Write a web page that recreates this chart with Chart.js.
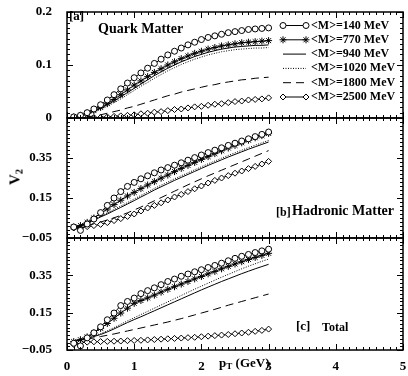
<!DOCTYPE html>
<html>
<head>
<meta charset="utf-8">
<script src="https://cdn.jsdelivr.net/npm/chart.js@4"></script>
<style>
  body { margin: 0; background: #fff; }
  #wrap { position: relative; width: 408px; height: 376px; font-family: 'Liberation Serif', serif; font-weight: bold; color: #000; }
  canvas { position: absolute; left: 0; }
  .lbl { position: absolute; white-space: nowrap; line-height: 1; }
  .lbl sub { font-size: 70%; vertical-align: -0.25em; line-height: 0; }
</style>
</head>
<body>
<div id="wrap">
  <canvas id="quark" width="408" height="130" style="top:0"></canvas>
  <canvas id="hadron" width="408" height="140" style="top:108px"></canvas>
  <canvas id="total" width="408" height="148" style="top:228px"></canvas>

  <div class="lbl" style="left:69px; top:9px; font-size:13px">[a]</div>
  <div class="lbl" style="left:98px; top:21.5px; font-size:14px">Quark Matter</div>
  <div class="lbl" style="left:276px; top:206px; font-size:12px">[b]</div>
  <div class="lbl" style="left:292px; top:204px; font-size:14px">Hadronic Matter</div>
  <div class="lbl" style="left:296px; top:319px; font-size:13px">[c]</div>
  <div class="lbl" style="left:322px; top:321px; font-size:12px">Total</div>
  <div class="lbl" style="left:219px; top:356px; font-size:13px">p<sub>T</sub> (GeV)</div>
  <div class="lbl" style="left:15px; top:177px; font-size:15px; transform: translate(-50%, -50%) rotate(-90deg)">V<sub>2</sub></div>
</div>

<script>
// transverse momentum (GeV), shared by every curve
const pT = [0.1, 0.2, 0.3, 0.4, 0.5, 0.6, 0.7, 0.8, 0.9, 1.0,
            1.1, 1.2, 1.3, 1.4, 1.5, 1.6, 1.7, 1.8, 1.9, 2.0,
            2.1, 2.2, 2.3, 2.4, 2.5, 2.6, 2.7, 2.8, 2.9, 3.0]

const seriesNames = ['<M>=140 MeV', '<M>=770 MeV', '<M>=940 MeV', '<M>=1020 MeV', '<M>=1800 MeV', '<M>=2500 MeV']

// [a] quark matter
const quark140 = [0.002, 0.005, 0.010, 0.017, 0.025, 0.034, 0.044, 0.055, 0.066, 0.076, 0.085, 0.094, 0.103, 0.111, 0.119, 0.126, 0.132, 0.138, 0.143, 0.148, 0.152, 0.155, 0.158, 0.161, 0.163, 0.165, 0.167, 0.168, 0.169, 0.170]
const quark770 = [0.002, 0.005, 0.009, 0.014, 0.020, 0.027, 0.035, 0.044, 0.053, 0.062, 0.070, 0.078, 0.086, 0.093, 0.100, 0.106, 0.112, 0.117, 0.122, 0.126, 0.130, 0.133, 0.136, 0.138, 0.140, 0.142, 0.143, 0.144, 0.145, 0.146]
const quark940 = [0.001, 0.004, 0.008, 0.013, 0.018, 0.025, 0.032, 0.040, 0.048, 0.056, 0.064, 0.072, 0.080, 0.087, 0.094, 0.100, 0.106, 0.111, 0.116, 0.120, 0.124, 0.127, 0.130, 0.132, 0.134, 0.135, 0.136, 0.137, 0.137, 0.138]
const quark1020 = [0.001, 0.003, 0.007, 0.011, 0.016, 0.022, 0.029, 0.036, 0.044, 0.052, 0.060, 0.067, 0.075, 0.082, 0.089, 0.095, 0.101, 0.106, 0.111, 0.115, 0.119, 0.122, 0.125, 0.127, 0.129, 0.130, 0.131, 0.132, 0.132, 0.133]
const quark1800 = [0.000, 0.001, 0.002, 0.004, 0.006, 0.009, 0.012, 0.015, 0.019, 0.022, 0.026, 0.030, 0.034, 0.038, 0.042, 0.045, 0.049, 0.052, 0.055, 0.058, 0.061, 0.063, 0.066, 0.068, 0.070, 0.072, 0.073, 0.075, 0.076, 0.077]
const quark2500 = [0.000, 0.000, 0.000, 0.001, 0.001, 0.002, 0.003, 0.004, 0.005, 0.006, 0.008, 0.009, 0.011, 0.012, 0.014, 0.016, 0.017, 0.019, 0.021, 0.022, 0.024, 0.026, 0.027, 0.029, 0.031, 0.032, 0.034, 0.035, 0.036, 0.038]

// [b] hadronic matter
const hadron140 = [0.005, -0.012, 0.020, 0.045, 0.077, 0.113, 0.150, 0.182, 0.208, 0.228, 0.246, 0.261, 0.276, 0.290, 0.302, 0.314, 0.326, 0.339, 0.352, 0.365, 0.377, 0.389, 0.401, 0.413, 0.424, 0.435, 0.446, 0.457, 0.468, 0.480]
const hadron770 = [0.005, 0.012, 0.028, 0.050, 0.073, 0.095, 0.117, 0.139, 0.160, 0.178, 0.197, 0.215, 0.232, 0.249, 0.265, 0.282, 0.298, 0.313, 0.328, 0.343, 0.357, 0.372, 0.386, 0.400, 0.413, 0.426, 0.439, 0.451, 0.462, 0.473]
const hadron940 = [0.005, 0.012, 0.025, 0.040, 0.055, 0.070, 0.087, 0.103, 0.120, 0.137, 0.155, 0.172, 0.190, 0.206, 0.222, 0.238, 0.253, 0.268, 0.283, 0.298, 0.313, 0.327, 0.341, 0.355, 0.368, 0.381, 0.394, 0.406, 0.418, 0.430]
const hadron1020 = [0.005, 0.013, 0.027, 0.043, 0.059, 0.075, 0.093, 0.110, 0.127, 0.145, 0.163, 0.180, 0.198, 0.214, 0.230, 0.246, 0.261, 0.276, 0.291, 0.306, 0.321, 0.335, 0.349, 0.363, 0.376, 0.389, 0.402, 0.414, 0.426, 0.438]
const hadron1800 = [0.000, 0.006, 0.013, 0.021, 0.030, 0.040, 0.051, 0.063, 0.076, 0.090, 0.105, 0.120, 0.136, 0.152, 0.168, 0.184, 0.200, 0.216, 0.231, 0.246, 0.261, 0.275, 0.289, 0.303, 0.317, 0.331, 0.345, 0.359, 0.373, 0.387]
const hadron2500 = [0.000, 0.000, 0.007, 0.012, 0.018, 0.027, 0.037, 0.047, 0.058, 0.070, 0.085, 0.100, 0.113, 0.126, 0.140, 0.155, 0.168, 0.182, 0.196, 0.210, 0.225, 0.238, 0.250, 0.262, 0.274, 0.285, 0.297, 0.308, 0.320, 0.333]

// [c] total
const total140 = [-0.014, -0.028, 0.015, 0.042, 0.074, 0.112, 0.148, 0.188, 0.210, 0.228, 0.252, 0.268, 0.283, 0.300, 0.317, 0.330, 0.345, 0.357, 0.369, 0.380, 0.392, 0.403, 0.415, 0.428, 0.441, 0.452, 0.462, 0.472, 0.481, 0.490]
const total770 = [-0.005, 0.005, 0.020, 0.042, 0.066, 0.092, 0.120, 0.148, 0.174, 0.200, 0.215, 0.229, 0.244, 0.260, 0.275, 0.289, 0.303, 0.317, 0.331, 0.344, 0.358, 0.371, 0.385, 0.398, 0.411, 0.423, 0.435, 0.446, 0.457, 0.468]
const total940 = [0.000, 0.004, 0.012, 0.022, 0.033, 0.047, 0.063, 0.080, 0.097, 0.113, 0.128, 0.144, 0.160, 0.176, 0.192, 0.208, 0.224, 0.240, 0.256, 0.272, 0.287, 0.302, 0.317, 0.331, 0.345, 0.359, 0.372, 0.385, 0.397, 0.409]
const total1020 = [0.000, 0.005, 0.014, 0.025, 0.038, 0.053, 0.070, 0.088, 0.106, 0.123, 0.140, 0.157, 0.174, 0.191, 0.208, 0.225, 0.242, 0.259, 0.276, 0.292, 0.308, 0.324, 0.340, 0.355, 0.370, 0.385, 0.399, 0.412, 0.425, 0.437]
const total1800 = [0.000, 0.003, 0.008, 0.015, 0.022, 0.029, 0.036, 0.044, 0.052, 0.060, 0.068, 0.076, 0.084, 0.092, 0.100, 0.109, 0.118, 0.128, 0.138, 0.148, 0.158, 0.168, 0.179, 0.190, 0.200, 0.210, 0.220, 0.230, 0.240, 0.250]
const total2500 = [-0.020, -0.010, -0.008, -0.006, -0.005, -0.004, -0.003, -0.002, 0.000, 0.001, 0.002, 0.004, 0.006, 0.008, 0.010, 0.012, 0.014, 0.016, 0.018, 0.021, 0.024, 0.027, 0.030, 0.033, 0.037, 0.041, 0.045, 0.050, 0.055, 0.062]

// axis ticks and labels
const xTicks = [0, 1, 2, 3, 4, 5]
const xLabels = ['0', '1', '2', '3', '4', '5']
const quarkTicks = [0, 0.1, 0.2]
const quarkLabels = ['0', '0.1', '0.2']
const v2Ticks = [-0.05, 0.15, 0.35]
const v2Labels = ['\u22120.05', '0.15', '0.35']

const FONT = 'Liberation Serif'

// line/marker look of the six mass bins
const looks = [
    { pointStyle: 'circle', pointRadius: 3 },
    { pointStyle: 'star', pointRadius: 3.5 },
    { pointRadius: 0 },
    { pointRadius: 0, borderDash: [1, 1.5] },
    { pointRadius: 0, borderDash: [8, 5] },
    { pointStyle: 'rectRot', pointRadius: 3 }
]

// inward ticks on all four sides plus the box
const frameTicks = {
    id: 'frameTicks',
    afterDatasetsDraw(chart, args, opts) {
        const { ctx, chartArea: a, scales: { x, y } } = chart
        ctx.save()
        ctx.strokeStyle = '#000'
        ctx.lineWidth = 1
        ctx.beginPath()
        for (let i = 0; i <= 50; i++) {
            const px = Math.round(x.getPixelForValue(i / 10)) + 0.5
            const len = i % 10 === 0 ? 6 : 3
            ctx.moveTo(px, a.bottom); ctx.lineTo(px, a.bottom - len)
            ctx.moveTo(px, a.top); ctx.lineTo(px, a.top + len)
        }
        const n = Math.round((y.max - y.min) / opts.minor)
        const per = Math.round(opts.major / opts.minor)
        for (let i = 0; i <= n; i++) {
            const py = Math.round(y.getPixelForValue(y.min + i * opts.minor)) + 0.5
            const len = i % per === 0 ? 6 : 3
            ctx.moveTo(a.left, py); ctx.lineTo(a.left + len, py)
            ctx.moveTo(a.right, py); ctx.lineTo(a.right - len, py)
        }
        ctx.stroke()
        ctx.lineWidth = 1.5
        ctx.strokeRect(a.left, a.top, a.right - a.left, a.bottom - a.top)
        ctx.restore()
    }
}

// legend drawn inside the top panel: sample line with end markers, then name
const innerLegend = {
    id: 'innerLegend',
    afterDraw(chart, args, opts) {
        if (!opts.show) return
        const ctx = chart.ctx
        ctx.save()
        chart.data.datasets.forEach((ds, i) => {
            const yy = 25.5 + i * 14.3
            ctx.strokeStyle = '#000'
            ctx.lineWidth = 1
            ctx.setLineDash(ds.borderDash || [])
            ctx.beginPath(); ctx.moveTo(283, yy); ctx.lineTo(306, yy); ctx.stroke()
            ctx.setLineDash([])
            if (ds.pointRadius > 0) {
                ctx.fillStyle = '#fff'
                const st = { pointStyle: ds.pointStyle, radius: ds.pointRadius, borderWidth: 1, rotation: 0 }
                Chart.helpers.drawPoint(ctx, st, 283, yy)
                Chart.helpers.drawPoint(ctx, st, 306, yy)
            }
            ctx.fillStyle = '#000'
            ctx.font = 'bold 12px "' + FONT + '"'
            ctx.textBaseline = 'middle'
            ctx.fillText(seriesNames[i], 311, yy)
        })
        ctx.restore()
    }
}

function makePanel(id, series, yMin, yMax, ticks, labels, minor, major, pad, bottomAxis, legend) {
    new Chart(document.getElementById(id), {
        type: 'line',
        data: {
            datasets: series.map((vals, i) => ({
                label: seriesNames[i],
                data: pT.map((x, k) => ({ x, y: vals[k] })),
                borderColor: '#000',
                borderWidth: 1,
                pointBorderColor: '#000',
                pointBackgroundColor: '#fff',
                pointBorderWidth: 1,
                tension: 0,
                ...looks[i]
            }))
        },
        options: {
            responsive: false,
            animation: false,
            layout: { padding: { top: pad[0], bottom: pad[1], left: 0, right: 5 } },
            plugins: {
                legend: { display: false },
                tooltip: { enabled: false },
                frameTicks: { minor, major },
                innerLegend: { show: legend }
            },
            scales: {
                x: {
                    type: 'linear',
                    min: 0, max: 5,
                    display: bottomAxis,
                    grid: { display: false },
                    border: { display: false },
                    afterBuildTicks: s => { s.ticks = xTicks.map(v => ({ value: v })) },
                    afterFit: s => {
                        if (bottomAxis) s.height = 26
                        s.paddingLeft = 0
                        s.paddingRight = 0
                    },
                    ticks: {
                        padding: 1,
                        color: '#000',
                        font: { family: FONT, weight: 'bold', size: 13 },
                        callback: (v, i) => xLabels[i]
                    }
                },
                y: {
                    min: yMin, max: yMax,
                    grid: { display: false },
                    border: { display: false },
                    afterBuildTicks: s => { s.ticks = ticks.map(v => ({ value: v })) },
                    afterFit: s => {
                        s.width = 67
                        s.paddingTop = 0
                        s.paddingBottom = 0
                    },
                    ticks: {
                        padding: 7,
                        color: '#000',
                        font: { family: FONT, weight: 'bold', size: 13 },
                        callback: (v, i) => labels[i]
                    }
                }
            }
        },
        plugins: [frameTicks, innerLegend]
    })
}

makePanel('quark', [quark140, quark770, quark940, quark1020, quark1800, quark2500],
    0, 0.2, quarkTicks, quarkLabels, 0.01, 0.1, [12, 12], false, true)
makePanel('hadron', [hadron140, hadron770, hadron940, hadron1020, hadron1800, hadron2500],
    -0.05, 0.55, v2Ticks, v2Labels, 0.02, 0.2, [10, 10], false, false)
makePanel('total', [total140, total770, total940, total1020, total1800, total2500],
    -0.05, 0.55, v2Ticks, v2Labels, 0.02, 0.2, [10, 0], true, false)
</script>
</body>
</html>
